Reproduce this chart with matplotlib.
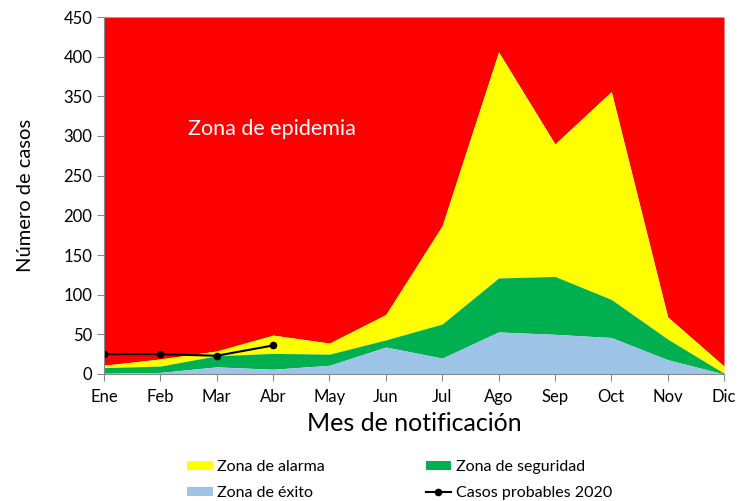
import matplotlib
matplotlib.use("Agg")
import matplotlib.pyplot as plt
import numpy as np

plt.rcParams['font.family'] = ['Lato', 'DejaVu Sans']

months = ["Ene", "Feb", "Mar", "Abr", "May", "Jun", "Jul", "Ago", "Sep", "Oct", "Nov", "Dic"]
exito = [1, 2, 9, 6, 11, 34, 20, 53, 50, 46, 18, 0]
seguridad = [8, 10, 23, 26, 25, 43, 63, 121, 123, 94, 44, 1]
alarma = [11, 19, 29, 49, 39, 75, 187, 406, 290, 356, 72, 10]
epidemia_top = 450
casos_2020 = [25, 25, 23, 36]

x = np.arange(len(months))
fig = plt.figure(figsize=(7.4, 5.01), dpi=100)
ax = fig.add_axes([104/740, 1-374/501, 620/740, 357/501])

ax.fill_between(x, alarma, epidemia_top, color="#ff0000", lw=0)
ax.fill_between(x, seguridad, alarma, color="#ffff00", lw=0, label="Zona de alarma")
ax.fill_between(x, exito, seguridad, color="#00b050", lw=0, label="Zona de seguridad")
ax.fill_between(x, 0, exito, color="#9dc3e6", lw=0, label="Zona de éxito")
ax.plot(x[:len(casos_2020)], casos_2020, color="black", lw=1.5, marker="o", ms=4.5,
        label="Casos probables 2020")

ax.set_xlim(0, len(months) - 1)
ax.set_ylim(0, 450)
ax.set_yticks(np.arange(0, 451, 50))
ax.set_xticks(x)
ax.set_xticklabels(months)
ax.tick_params(axis="both", labelsize=12, color="#888888", length=5)
ax.tick_params(axis="x", pad=6)
for s in ["top", "right"]:
    ax.spines[s].set_visible(False)
for s in ["left", "bottom"]:
    ax.spines[s].set_color("#888888")
ax.set_ylabel("Número de casos", fontsize=14.5, labelpad=21)
ax.set_xlabel("Mes de notificación", fontsize=18, labelpad=5)

ax.text(1.49, 309, "Zona de epidemia", color="white", fontsize=15.5, va="center", ha="left")

h, l = ax.get_legend_handles_labels()
d = dict(zip(l, h))
order = ["Zona de alarma", "Zona de éxito", "Zona de seguridad", "Casos probables 2020"]
fig.legend([d[k] for k in order], order, ncol=2, frameon=False, fontsize=11.5,
           loc="upper left", bbox_to_anchor=(187/740, 1-460/501), borderpad=0,
           borderaxespad=0, columnspacing=6.3,
           handlelength=1.6, handleheight=0.45, labelspacing=0.75, handletextpad=0.3)

fig.savefig("out.png", dpi=100)
